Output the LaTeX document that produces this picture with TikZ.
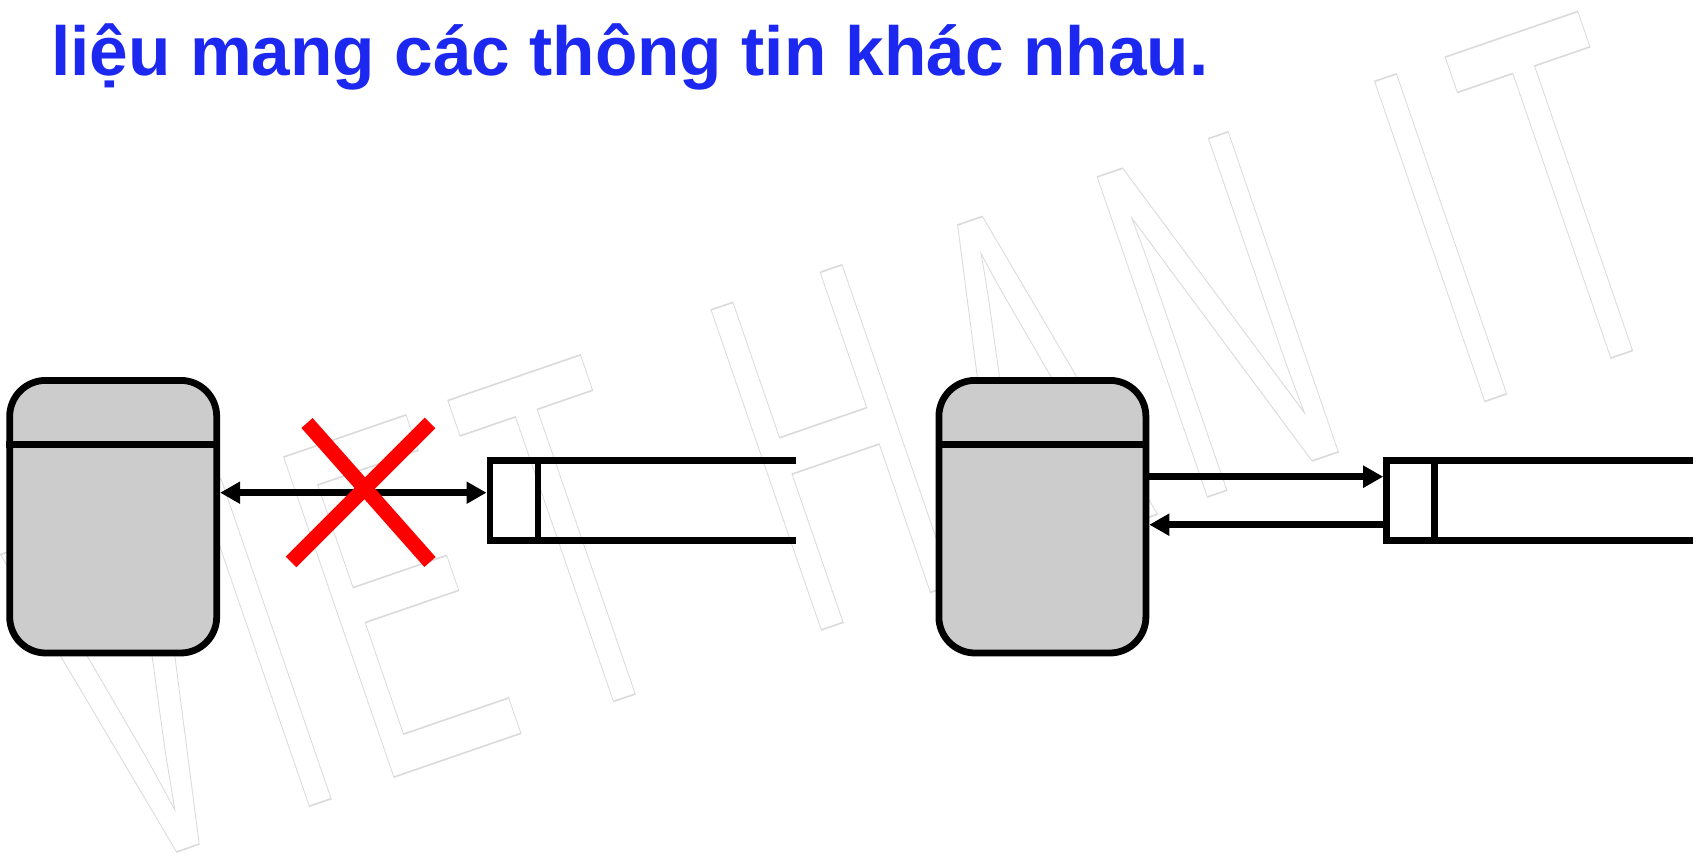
\documentclass[tikz,border=0pt]{standalone}
\usepackage{fontspec}
\setmainfont{Liberation Sans}
\newfontfamily\markfont{Liberation Sans}[LetterSpace=9.3]
\usetikzlibrary{positioning, arrows.meta, calc}

\definecolor{boxgray}{RGB}{204,204,204}
\definecolor{titleblue}{RGB}{28,40,240}
\definecolor{markgray}{RGB}{218,218,218}

% Umrissschrift (nur Kontur, keine Fuellung)
\newcommand{\outlinetext}[1]{\special{pdf:literal direct 1 Tr 0.8 w}#1\special{pdf:literal direct 0 Tr}}

\begin{document}
\begin{tikzpicture}[
    x=0.5pt, y=-0.5pt,
    entity/.style={draw=black, line width=3.4pt, fill=boxgray, rectangle, rounded corners=18pt, minimum width=103.5pt, minimum height=136.3pt, inner sep=0pt},
    store/.style={rectangle, minimum width=153.25pt, minimum height=40pt, inner sep=0pt, outer sep=0pt},
    line/.style={line width=3.4pt},
    flow/.style={line width=3.4pt, -{Triangle[length=10pt, width=10.5pt]}},
    crossline/.style={draw=red, line width=7.5pt},
    title/.style={font=\fontsize{34.7pt}{41pt}\selectfont\bfseries, text=titleblue, inner sep=0pt, anchor=base west},
    watermark/.style={font=\markfont\fontsize{246pt}{246pt}\selectfont, text=markgray, inner sep=0pt, anchor=base west, rotate=19, xscale=0.504}
]

\useasboundingbox (0,0) rectangle (1698,861);

% Wasserzeichen
\node[watermark] (wm) at (109.5,875) {\outlinetext{VIET\hspace{19.8pt} \addfontfeatures{LetterSpace=12.9}HAN\hspace{10.9pt} \addfontfeatures{LetterSpace=9.3}IT}};

% Titel
\node[title] (title) at (51,76) {liệu mang các thông tin khác nhau.};

% Knoten
\node[entity] (db1) at (113.2,516.7) {};
\node[store, right=134.9pt of db1, yshift=8pt] (st1) {};
\node[entity, right=357.7pt of db1] (db2) {};
\node[store, right=118.65pt of db2, yshift=8pt] (st2) {};

% Trennlinien und Datenspeicher
\draw[line] ([yshift=-33.8pt]db1.north west) -- ([yshift=-33.8pt]db1.north east);
\draw[line] ([yshift=-33.8pt]db2.north west) -- ([yshift=-33.8pt]db2.north east);
\draw[line] (st1.north east) -- (st1.north west) -- (st1.south west) -- (st1.south east);
\draw[line] ([xshift=24pt]st1.north west) -- ([xshift=24pt]st1.south west);
\draw[line] (st2.north east) -- (st2.north west) -- (st2.south west) -- (st2.south east);
\draw[line] ([xshift=24pt]st2.north west) -- ([xshift=24pt]st2.south west);

% Pfeile
\coordinate (a1) at ([yshift=4pt]st1.west);
\coordinate (a2) at ([yshift=12pt]st2.west);
\coordinate (a3) at ([yshift=-12pt]st2.west);
\draw[line, {Triangle[length=10pt, width=10.5pt]}-{Triangle[length=10pt, width=10.5pt]}, shorten >=1.7pt] (db1.east |- a1) -- (a1);
\draw[flow, shorten >=1.7pt] (db2.east |- a2) -- (a2);
\draw[flow] (a3) -- (db2.east |- a3);

% Kreuz
\draw[crossline] (307,423) -- (430,562);
\draw[crossline] (430,423) -- (291,562);

\end{tikzpicture}
\end{document}
